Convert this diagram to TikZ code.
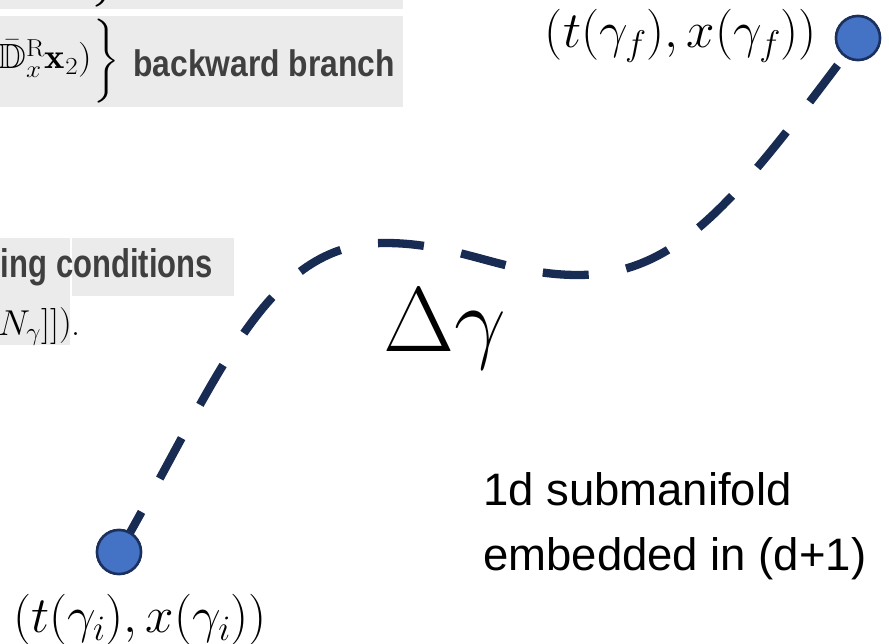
\RequirePackage{fix-cm}
\documentclass[tikz,border=0pt]{standalone}
\usepackage{amssymb}
\usepackage{fontspec}
\newfontfamily\arialfont{Liberation Sans}
\definecolor{panelgray}{HTML}{EBEBEB}
\definecolor{papertextgray}{HTML}{3F3F3F}
\definecolor{curvenavy}{HTML}{182B52}
\definecolor{dotblue}{HTML}{4472C4}
\definecolor{dotedge}{HTML}{1B305C}
\tikzset{
  panel/.style={fill=panelgray, draw=none},
  papertext/.style={text=papertextgray, inner sep=0pt,
    font=\arialfont\bfseries\fontsize{37}{44}\selectfont},
  papermath/.style={inner sep=0pt, font=\fontsize{35}{42}\selectfont},
  mathlabel/.style={inner sep=0pt, font=\fontsize{51}{60}\selectfont},
  curve/.style={draw=curvenavy, line width=8.3pt, dash pattern=on 46pt off 38pt},
  endpoint/.style={circle, minimum size=44pt, inner sep=0pt,
    fill=dotblue, draw=dotedge, line width=2.5pt},
  caption/.style={inner sep=0pt, align=left,
    font=\arialfont\fontsize{45.5}{65}\selectfont}
}
\begin{document}
\begin{tikzpicture}[x=1pt, y=-1pt]
  \useasboundingbox (0,0) rectangle (889,644);
  \clip (0,0) rectangle (889,644);

  % excerpt panels from the paper
  \fill[panel] (0,0) rectangle (403,9);
  \fill[panel] (0,16) rectangle (403,107);
  \fill[panel] (0,238) rectangle (70,345);
  \fill[panel] (72,238) rectangle (234,296);

  \node[papermath] (bracetop) at (104,-34)
    {$\left.\vrule height 35pt depth 35pt width 0pt\right\}$};
  \node[papermath, anchor=base east] (dxr) at (92,69)
    {\scalebox{1.1}[1]{$\bar{\mathbb{D}}^{\mathrm{R}}_x\mathbf{x}_2)$}};
  \node[papermath] (bracebw) at (106,62)
    {$\left.\vrule height 35pt depth 35pt width 0pt\right\}$};
  \node[papertext, anchor=base west] (bw) at (133,77)
    {\scalebox{0.86}[1]{backward branch}};

  \node[papertext, font=\arialfont\bfseries\fontsize{40}{46}\selectfont,
    anchor=base east] (cond) at (213,278)
    {\scalebox{0.775}[1]{ing conditions}};
  \node[papermath, font=\fontsize{36}{43}\selectfont, anchor=base east]
    (ngamma) at (81,335) {$[N_\gamma]]\big)$.};

  % the curve and its end points
  \coordinate (crest) at (385,243);
  \coordinate (dip) at (578,275);
  \node[endpoint] (gi) at (119,552) {};
  \node[endpoint] (gf) at (858,38) {};
  \draw[curve] (gi.center)
    .. controls (219,378) and (265,243) .. (crest)
    .. controls (460,243) and (505,275) .. (dip)
    .. controls (680,275) and (738,198) .. (gf.center);
  \node[endpoint] at (gi) {};
  \node[endpoint] at (gf) {};

  % labels
  \node[mathlabel] (lf) at (681,36) {$(t(\gamma_f),x(\gamma_f))$};
  \node[mathlabel] (li) at (140,620) {$(t(\gamma_i),x(\gamma_i))$};
  \node[inner sep=0pt, anchor=base west, font=\fontsize{92}{104}\selectfont]
    (dg) at (383,352) {$\Delta\gamma$};
  \node[caption, anchor=north west] (cap) at (483,472)
    {1d submanifold\\embedded in (d+1)};
\end{tikzpicture}
\end{document}
